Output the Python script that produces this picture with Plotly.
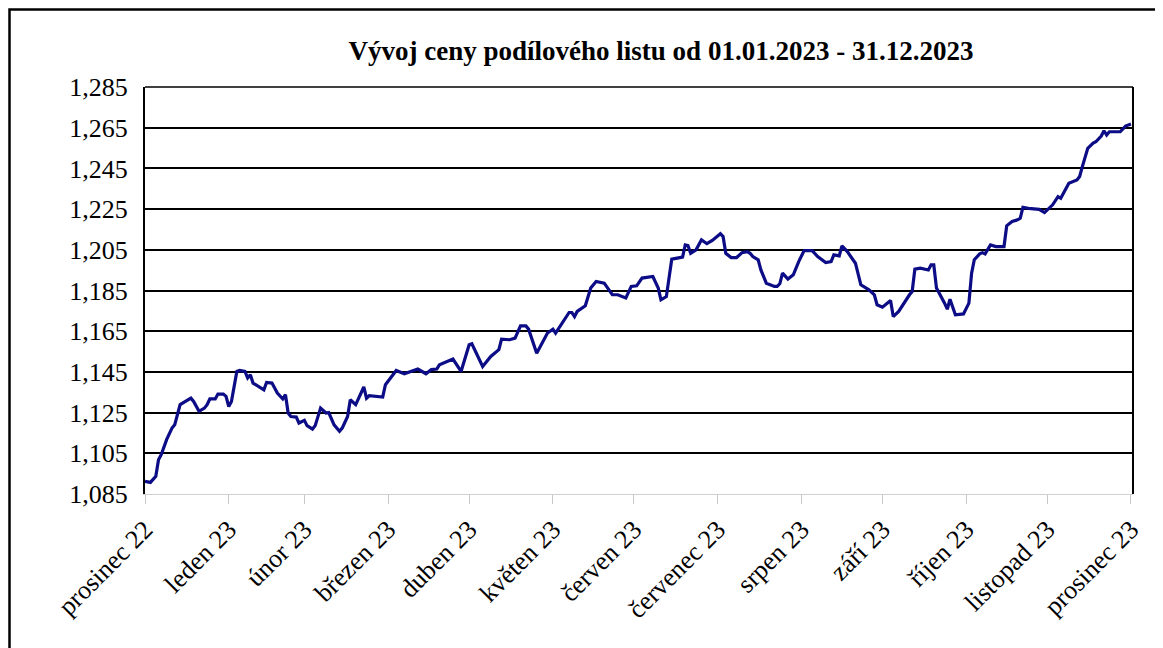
import pandas as pd
import plotly.graph_objects as go

# day offsets from 31.12.2022 and fund unit price
days = [0, 2, 4, 5, 6, 8, 10, 11, 13, 15, 17, 18, 20, 22, 23, 24, 26, 27, 29, 30,
        31, 32, 34, 35, 37, 38, 39, 40, 44, 45, 47, 49, 50, 51, 52, 53, 54, 56, 57, 59,
        60, 62, 63, 65, 67, 68, 70, 72, 73, 75, 76, 78, 81, 82, 83, 88, 89, 91, 93, 96,
        99, 101, 104, 106, 108, 109, 114, 117, 120, 121, 125, 128, 131, 132, 135, 137, 139, 141, 142, 145,
        149, 151, 152, 155, 157, 158, 159, 160, 163, 165, 167, 170, 173, 175, 178, 180, 182, 184, 188, 190,
        191, 193, 195, 197, 199, 200, 201, 202, 204, 206, 208, 210, 213, 214, 215, 217, 219, 221, 223, 224,
        225, 227, 228, 230, 233, 234, 235, 236, 238, 240, 242, 244, 247, 249, 252, 254, 255, 257, 258, 260,
        262, 263, 265, 268, 270, 271, 273, 276, 277, 278, 279, 283, 284, 285, 287, 290, 291, 292, 293, 296,
        297, 298, 300, 303, 305, 306, 307, 309, 310, 311, 313, 315, 318, 319, 321, 323, 324, 325, 327, 331,
        333, 336, 338, 339, 342, 345, 346, 347, 349, 351, 352, 354, 355, 356, 357, 361, 363, 365]
prices = [1.0912, 1.0907, 1.0937, 1.1018, 1.1043, 1.1117, 1.1174, 1.1190, 1.1289, 1.1305,
          1.1321, 1.1305, 1.1256, 1.1272, 1.1289, 1.1317, 1.1317, 1.1341, 1.1341, 1.1330,
          1.1280, 1.1305, 1.1452, 1.1457, 1.1452, 1.1420, 1.1436, 1.1395, 1.1362, 1.1398,
          1.1395, 1.1346, 1.1330, 1.1317, 1.1338, 1.1248, 1.1231, 1.1228, 1.1199, 1.1212,
          1.1186, 1.1169, 1.1186, 1.1272, 1.1248, 1.1250, 1.1190, 1.1158, 1.1174, 1.1231,
          1.1313, 1.1289, 1.1376, 1.1321, 1.1333, 1.1326, 1.1387, 1.1420, 1.1457, 1.1441,
          1.1457, 1.1464, 1.1441, 1.1461, 1.1464, 1.1485, 1.1513, 1.1452, 1.1583, 1.1588,
          1.1477, 1.1526, 1.1559, 1.1611, 1.1608, 1.1616, 1.1676, 1.1676, 1.1660, 1.1542,
          1.1641, 1.1660, 1.1641, 1.1706, 1.1742, 1.1742, 1.1722, 1.1747, 1.1775, 1.1862,
          1.1894, 1.1886, 1.1829, 1.1829, 1.1813, 1.1870, 1.1873, 1.1911, 1.1919, 1.1862,
          1.1804, 1.1820, 1.2004, 1.2009, 1.2014, 1.2074, 1.2071, 1.2033, 1.2050, 1.2099,
          1.2080, 1.2096, 1.2129, 1.2115, 1.2033, 1.2012, 1.2012, 1.2036, 1.2041, 1.2033,
          1.2017, 1.2001, 1.1951, 1.1886, 1.1870, 1.1870, 1.1883, 1.1935, 1.1906, 1.1927,
          1.1992, 1.2046, 1.2046, 1.2017, 1.1987, 1.1992, 1.2025, 1.2020, 1.2069, 1.2041,
          1.2004, 1.1984, 1.1878, 1.1853, 1.1829, 1.1780, 1.1768, 1.1801, 1.1722, 1.1735,
          1.1747, 1.1829, 1.1845, 1.1955, 1.1960, 1.1951, 1.1976, 1.1976, 1.1862, 1.1788,
          1.1758, 1.1807, 1.1731, 1.1735, 1.1788, 1.1935, 1.2001, 1.2030, 1.2036, 1.2030,
          1.2074, 1.2066, 1.2066, 1.2168, 1.2189, 1.2197, 1.2205, 1.2259, 1.2254, 1.2249,
          1.2233, 1.2271, 1.2311, 1.2303, 1.2377, 1.2393, 1.2410, 1.2459, 1.2549, 1.2574,
          1.2581, 1.2609, 1.2635, 1.2614, 1.2630, 1.2630, 1.2658, 1.2668]

tick_dates = ["2022-12-31", "2023-01-31", "2023-02-28", "2023-03-31", "2023-04-30",
              "2023-05-31", "2023-06-30", "2023-07-31", "2023-08-31", "2023-09-30",
              "2023-10-31", "2023-11-30", "2023-12-31"]
tick_labels = ["prosinec 22", "leden 23", "únor 23", "březen 23", "duben 23",
               "květen 23", "červen 23", "červenec 23", "srpen 23", "září 23",
               "říjen 23", "listopad 23", "prosinec 23"]
y_ticks = [1.085, 1.105, 1.125, 1.145, 1.165, 1.185, 1.205, 1.225, 1.245, 1.265, 1.285]
y_labels = ["1,085", "1,105", "1,125", "1,145", "1,165", "1,185", "1,205", "1,225",
            "1,245", "1,265", "1,285"]
title = "Vývoj ceny podílového listu od 01.01.2023 - 31.12.2023"

dates = pd.Timestamp("2022-12-31") + pd.to_timedelta(days, unit="D")

FONT = "Liberation Serif"
OFF = 8  # page body margin

fig = go.Figure()
fig.add_trace(go.Scatter(x=dates, y=prices, mode="lines",
                         line=dict(color="#0c0c86", width=3.2), showlegend=False,
                         hoverinfo="x+y"))

fig.update_layout(
    width=1163, height=648,
    margin=dict(l=145 - OFF, r=1163 - 1133 + OFF, t=87 - OFF, b=648 - 494 + OFF),
    paper_bgcolor="white", plot_bgcolor="white",
    title=dict(text="<b>" + title + "</b>", x=(661 - OFF) / 1163, xanchor="center",
               y=1 - (51 - OFF) / 648, yanchor="middle",
               font=dict(family=FONT, size=27, color="black")),
    xaxis=dict(type="date",
               range=["2022-12-31", "2023-12-31 18:00"],
               tickmode="array", tickvals=tick_dates, ticktext=tick_labels,
               tickangle=-45, ticks="outside", ticklen=9, tickcolor="#c8c8c8",
               showgrid=False, showline=True, linecolor="#d0d0d0", linewidth=1,
               zeroline=False,
               tickfont=dict(family=FONT, size=26, color="black")),
    yaxis=dict(range=[1.085, 1.285], tickmode="array", tickvals=y_ticks,
               ticktext=y_labels, showgrid=True, gridcolor="black", gridwidth=1.5,
               showline=True, linecolor="black", linewidth=2, zeroline=False,
               ticks="", ticklabelstandoff=10,
               tickfont=dict(family=FONT, size=26, color="black")),
    shapes=[
        dict(type="line", xref="paper", yref="paper", x0=0, x1=1, y0=1, y1=1,
             line=dict(color="black", width=1.5)),
        dict(type="line", xref="paper", yref="paper", x0=1, x1=1, y0=0, y1=1,
             line=dict(color="black", width=2)),
        dict(type="rect", xref="paper", yref="paper",
             x0=(9.5 - 145) / 988, x1=(1159 - 145) / 988,
             y0=(494 - 680) / 407, y1=(494 - 9.5) / 407,
             line=dict(color="black", width=2.5), layer="below"),
    ],
)

fig.write_html("out.html")
